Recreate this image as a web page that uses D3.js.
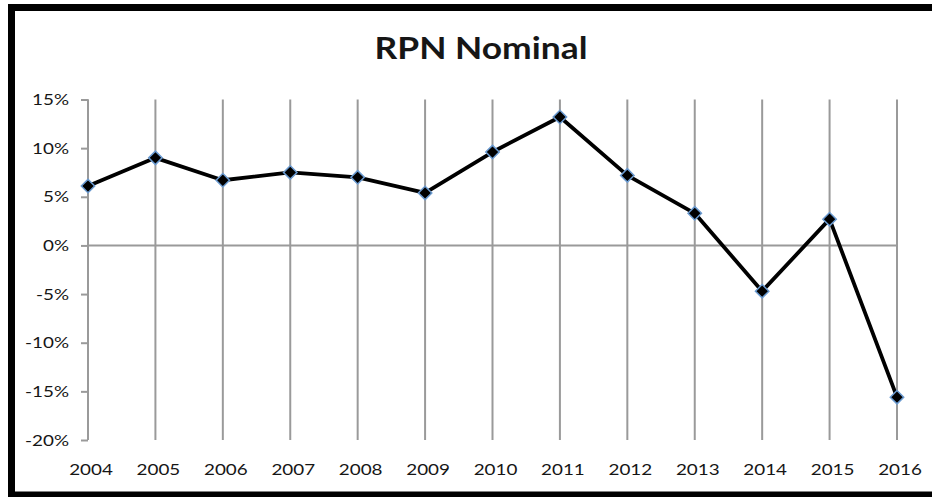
<!DOCTYPE html>
<html lang="en">
  <head>
    <meta charset="utf-8">
    <title>RPN Nominal</title>
    <style>
    body {
        margin: 0;
        background: #fff;
    }
    text {
        font-family: Lato, "Open Sans", sans-serif;
        fill: #161616;
    }
    .title {
        font-size: 30px;
        font-weight: 700;
    }
    .tick-label {
        font-size: 14.5px;
    }
    </style>
  </head>
  <body>
    <div id="chart"></div>

    <script src="https://d3js.org/d3.v7.min.js"></script>
    <script>
    (function(d3) {
        'use strict';

        var years = ['2004', '2005', '2006', '2007', '2008', '2009', '2010',
                     '2011', '2012', '2013', '2014', '2015', '2016'];
        var rpnNominal = [6.1, 9.0, 6.7, 7.5, 7.0, 5.4, 9.6, 13.2, 7.2, 3.3, -4.7, 2.7, -15.6];
        var yTicks = [-20, -15, -10, -5, 0, 5, 10, 15];

        var width = 932;
        var height = 497;

        // the source picture is stretched sideways, so text is too
        var stretchTitle = 1.18;
        var stretchTick = 1.3;

        var svg = d3.select('#chart')
            .append('svg')
            .attr('width', width)
            .attr('height', height);

        var x = d3.scalePoint()
            .domain(years)
            .range([88, 897]);

        var y = d3.scaleLinear()
            .domain([-20, 15])
            .range([440, 99.5]);

        // frame
        svg.append('rect')
            .attr('x', 11.5)
            .attr('y', 7.5)
            .attr('width', 940)
            .attr('height', 487.5)
            .attr('fill', '#fff')
            .attr('stroke', '#000')
            .attr('stroke-width', 7);

        svg.append('text')
            .attr('class', 'title')
            .attr('text-anchor', 'middle')
            .attr('transform', 'translate(481,59) scale(' + stretchTitle + ',1)')
            .text('RPN Nominal');

        // vertical gridlines
        svg.append('g')
            .selectAll('line')
            .data(years)
            .enter()
            .append('line')
            .attr('x1', function(d) { return x(d); })
            .attr('x2', function(d) { return x(d); })
            .attr('y1', y(15))
            .attr('y2', y(-20))
            .attr('stroke', '#9a9a9a')
            .attr('stroke-width', 2);

        // y axis
        var yAxis = svg.append('g')
            .attr('transform', 'translate(' + x(years[0]) + ',0)')
            .call(d3.axisLeft(y).tickValues(yTicks).tickSize(7).tickFormat(''));
        yAxis.select('.domain').remove();
        yAxis.selectAll('.tick line')
            .attr('stroke', '#9a9a9a')
            .attr('stroke-width', 2);
        yAxis.append('line')
            .attr('y1', y(15))
            .attr('y2', y(-20))
            .attr('stroke', '#9a9a9a')
            .attr('stroke-width', 2);

        svg.append('g')
            .selectAll('text')
            .data(yTicks)
            .enter()
            .append('text')
            .attr('class', 'tick-label')
            .attr('text-anchor', 'end')
            .attr('transform', function(d) {
                return 'translate(69,' + (y(d) + 5.5) + ') scale(' + stretchTick + ',1)';
            })
            .text(function(d) { return d + '%'; });

        // zero line
        svg.append('line')
            .attr('x1', x(years[0]))
            .attr('x2', x(years[years.length - 1]))
            .attr('y1', y(0))
            .attr('y2', y(0))
            .attr('stroke', '#9a9a9a')
            .attr('stroke-width', 2);

        svg.append('g')
            .selectAll('text')
            .data(years)
            .enter()
            .append('text')
            .attr('class', 'tick-label')
            .attr('text-anchor', 'middle')
            .attr('transform', function(d) {
                return 'translate(' + (x(d) + 3) + ',475) scale(' + stretchTick + ',1)';
            })
            .text(function(d) { return d; });

        var line = d3.line()
            .x(function(d, i) { return x(years[i]); })
            .y(function(d) { return y(d); });

        svg.append('path')
            .datum(rpnNominal)
            .attr('d', line)
            .attr('fill', 'none')
            .attr('stroke', '#000')
            .attr('stroke-width', 3.8)
            .attr('stroke-linejoin', 'round');

        var marker = d3.symbol().type(d3.symbolSquare).size(90);

        svg.append('g')
            .selectAll('path')
            .data(rpnNominal)
            .enter()
            .append('path')
            .attr('d', marker)
            .attr('transform', function(d, i) {
                return 'translate(' + x(years[i]) + ',' + y(d) + ') rotate(45)';
            })
            .attr('fill', '#000')
            .attr('stroke', '#6a9ad0')
            .attr('stroke-width', 1.5);

    })(window.d3);
    </script>
  </body>
</html>
